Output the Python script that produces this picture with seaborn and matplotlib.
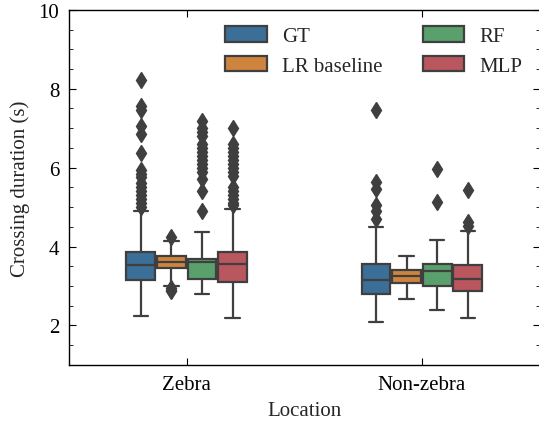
import numpy as np
import pandas as pd
import matplotlib.pyplot as plt
import seaborn as sns
from matplotlib.ticker import MultipleLocator

locations = ["Zebra", "Non-zebra"]
models = ["GT", "LR baseline", "RF", "MLP"]
model_colors = ["#3b6f98", "#cf843e", "#5aa06d", "#ba565e"]

# box statistics, rows = location, cols = model
q1_vals = [[3.14, 3.45, 3.18, 3.10],
           [2.80, 3.08, 3.00, 2.88]]
med_vals = [[3.52, 3.61, 3.61, 3.56],
            [3.16, 3.25, 3.39, 3.18]]
q3_vals = [[3.87, 3.76, 3.68, 3.87],
           [3.55, 3.41, 3.56, 3.52]]
whislo_vals = [[2.25, 3.00, 2.80, 2.19],
               [2.09, 2.66, 2.38, 2.19]]
whishi_vals = [[4.90, 4.15, 4.36, 4.94],
               [4.49, 3.77, 4.17, 4.39]]
flier_vals = [
    [[8.23, 7.55, 7.45, 7.05, 6.85, 6.38, 5.95, 5.85, 5.75, 5.6, 5.5, 5.4, 5.3, 5.2, 5.1, 5.0],
     [4.24, 2.95, 2.9, 2.87],
     [7.19, 7.0, 6.9, 6.8, 6.6, 6.5, 6.4, 6.3, 6.2, 6.1, 6.0, 5.9, 5.7, 5.4, 4.91],
     [7.0, 6.6, 6.5, 6.4, 6.3, 6.2, 6.1, 6.0, 5.9, 5.8, 5.5, 5.4, 5.3, 5.2, 5.1, 5.05]],
    [[7.47, 5.64, 5.46, 5.06, 4.89, 4.70],
     [],
     [5.97, 5.12],
     [5.44, 4.62, 4.53]],
]


def make_sample(lo, a, m, b, hi, out):
    # n = 4k+1 points so quartiles land exactly on a, m, b
    low = sorted(v for v in out if v < a)
    high = sorted(v for v in out if v > b)
    k = max(len(low), len(high)) + 2
    below = low + [lo] + [a] * (k - len(low) - 1)
    mid = [a] + [m] * (2 * k - 1) + [b]
    above = [b] * (k - len(high) - 1) + [hi] + high
    return below + mid + above


rows = []
for i, loc in enumerate(locations):
    for j, mod in enumerate(models):
        vals = make_sample(whislo_vals[i][j], q1_vals[i][j], med_vals[i][j],
                           q3_vals[i][j], whishi_vals[i][j], flier_vals[i][j])
        for v in vals:
            rows.append((loc, mod, v))
df = pd.DataFrame(rows, columns=["Location", "Model", "Crossing duration (s)"])

sns.set_theme(style="ticks")
plt.rcParams["font.family"] = ["Liberation Serif", "DejaVu Serif"]
plt.rcParams["font.size"] = 15
plt.rcParams["xtick.direction"] = "in"
plt.rcParams["ytick.direction"] = "in"

fig = plt.figure(figsize=(5.39, 4.31), dpi=100)
ax = fig.add_axes([0.128, 0.151, 0.873, 0.824])

line_c = "#3f3f3f"
sns.boxplot(data=df, x="Location", y="Crossing duration (s)", hue="Model",
            order=locations, hue_order=models,
            palette=dict(zip(models, model_colors)), saturation=1,
            width=0.52, gap=0.06, linewidth=1.6, linecolor=line_c,
            flierprops=dict(marker="d", markerfacecolor=line_c,
                            markeredgecolor=line_c, markersize=8),
            ax=ax)

ax.set_ylim(1, 10)
ax.set_xlim(-0.5, 1.5)
ax.yaxis.set_major_locator(MultipleLocator(2))
ax.yaxis.set_minor_locator(MultipleLocator(0.5))
ax.tick_params(axis="both", which="both", top=True, right=True,
               labelsize=15, colors="black", pad=7)
ax.tick_params(axis="both", which="major", length=5, width=0.8)
ax.tick_params(axis="y", which="minor", length=3, width=0.6)
ax.tick_params(axis="x", which="minor", top=False, bottom=False)
ax.set_xlabel("Location", fontsize=15, labelpad=5)
ax.set_ylabel("Crossing duration (s)", fontsize=15, labelpad=6)
for sp in ax.spines.values():
    sp.set_color("black")
    sp.set_linewidth(1.0)

handles, labels = ax.get_legend_handles_labels()
ax.legend(handles, labels, ncol=2, loc="upper right", frameon=False,
          fontsize=15, handlelength=2.0, handleheight=0.75,
          handletextpad=0.75, columnspacing=1.9, labelspacing=0.45,
          borderaxespad=0.4)

fig.savefig("out.png", dpi=100)
